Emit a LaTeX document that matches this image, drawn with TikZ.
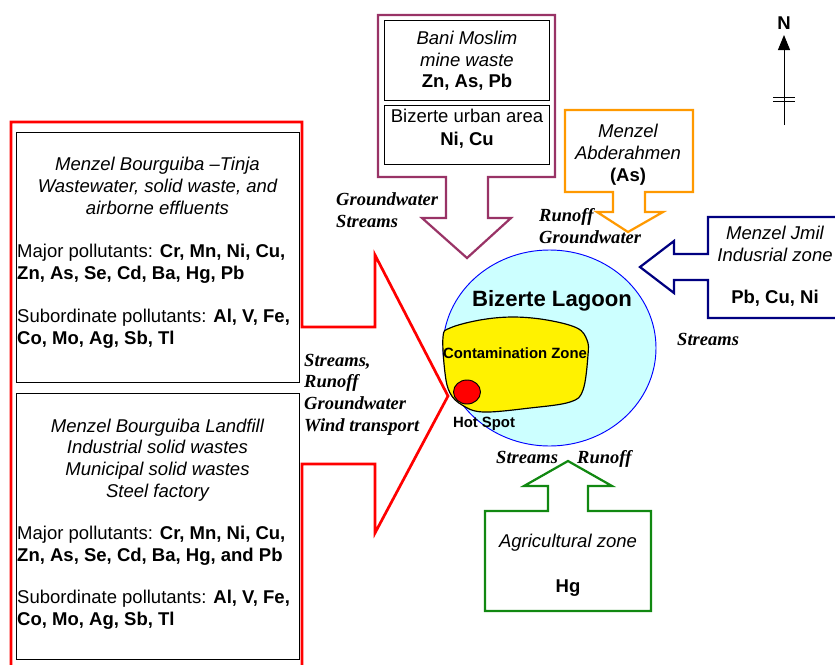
\documentclass[tikz,border=0pt]{standalone}
\usepackage{fontspec}
\setmainfont{Liberation Sans}
\newfontfamily\pathfont{Liberation Serif}
\usetikzlibrary{arrows.meta}
\definecolor{minecol}{HTML}{993366}
\definecolor{abdcol}{HTML}{FF9900}
\definecolor{jmilcol}{HTML}{000080}
\definecolor{agricol}{HTML}{118811}
\definecolor{lagooncol}{HTML}{CCFFFF}
\begin{document}
\begin{tikzpicture}[x=0.03cm,y=-0.03cm]
    \tikzstyle{every node}+=[inner sep=0pt, font=\fontsize{15.8}{18.4}\selectfont]
    \tikzstyle{srcarrow}=[line width=1.9pt, line join=miter]
    \tikzstyle{listbox}=[draw=black, line width=0.8pt]
    \tikzstyle{title}=[align=center, anchor=base, font=\fontsize{15.8}{18.4}\selectfont\itshape]
    \tikzstyle{plist}=[align=left, anchor=base west]
    \tikzstyle{metals}=[anchor=base, font=\fontsize{15.8}{18.4}\selectfont\bfseries]
    \tikzstyle{path}=[align=left, anchor=base west, font=\fontsize{15.8}{18.4}\selectfont\pathfont\bfseries\itshape]
    \useasboundingbox (0,0) rectangle (835,664);
    % Menzel Bourguiba sources
    \draw [red, srcarrow, line width=2.3pt] (11,670) -- (11,122) -- (302,122) -- (302,327) -- (375,327) -- (375,255) -- (448,396) -- (375,533) -- (375,464) -- (302,464) -- (302,670);
    \draw [listbox] (16,132) rectangle (299,382);
    \draw [listbox] (16,393) rectangle (299,659);
    \node [title] (tinja) at (157.5,214) {Menzel Bourguiba –Tinja\\Wastewater, solid waste, and\\airborne effluents};
    \node [plist] (tinjamaj) at (17,279) {Major pollutants: \textbf{Cr, Mn, Ni, Cu,}\\\textbf{Zn, As, Se, Cd, Ba, Hg, Pb}};
    \node [plist] (tinjasub) at (17,344) {Subordinate pollutants: \textbf{Al, V, Fe,}\\\textbf{Co, Mo, Ag, Sb, Tl}};
    \node [title] (landfill) at (157.5,497) {Menzel Bourguiba Landfill\\Industrial solid wastes\\Municipal solid wastes\\Steel factory};
    \node [plist] (landmaj) at (17,561) {Major pollutants: \textbf{Cr, Mn, Ni, Cu,}\\\textbf{Zn, As, Se, Cd, Ba, Hg, and Pb}};
    \node [plist] (landsub) at (17,625) {Subordinate pollutants: \textbf{Al, V, Fe,}\\\textbf{Co, Mo, Ag, Sb, Tl}};
    \node [path] (redpath) at (304,431) {Streams,\\Runoff\\Groundwater\\Wind transport};
    % Bani Moslim and Bizerte
    \draw [minecol, srcarrow] (378,15) -- (555,15) -- (555,177) -- (488,177) -- (488,218) -- (511,218) -- (467,258) -- (422,218) -- (446,218) -- (446,177) -- (378,177) -- cycle;
    \draw [listbox] (384,20) rectangle (549,100);
    \draw [listbox] (384,105) rectangle (549,164);
    \node [title] (mine) at (467,66) {Bani Moslim\\mine waste};
    \node [metals] (minemet) at (467,87) {Zn, As, Pb};
    \node [anchor=base] (urban) at (467,122) {Bizerte urban area};
    \node [metals] (urbanmet) at (467,145) {Ni, Cu};
    \node [path] (minepath) at (336,227) {Groundwater\\Streams};
    % Menzel Abderahmen
    \draw [abdcol, srcarrow] (565,110) -- (693,110) -- (693,192) -- (645,192) -- (645,212) -- (663,212) -- (628,232) -- (597,212) -- (613,212) -- (613,192) -- (565,192) -- cycle;
    \node [title] (abd) at (628,159) {Menzel\\Abderahmen};
    \node [metals] (abdmet) at (628,181) {(As)};
    \node [path] (abdpath) at (539,243) {Runoff\\Groundwater};
    % Menzel Jmil
    \draw [jmilcol, srcarrow] (845,217) -- (708,217) -- (708,254) -- (674,254) -- (674,241) -- (640,267) -- (674,293) -- (674,280) -- (708,280) -- (708,318) -- (845,318);
    \node [title] (jmil) at (775,261) {Menzel Jmil\\Indusrial zone};
    \node [metals] (jmilmet) at (775,303) {Pb, Cu, Ni};
    \node [path] (jmilpath) at (677,345) {Streams};
    % Agricultural zone
    \draw [agricol, srcarrow] (485,511) -- (548,511) -- (548,486) -- (524,486) -- (568,461) -- (612,486) -- (588,486) -- (588,511) -- (651,511) -- (651,611) -- (485,611) -- cycle;
    \node [title] (agri) at (568,547) {Agricultural zone};
    \node [metals] (agrimet) at (568,592) {Hg};
    \node [path] (agristr) at (496,463) {Streams};
    \node [path] (agrirun) at (577,463) {Runoff};
    % lagoon
    \draw [blue, fill=lagooncol, line width=0.8pt] (549.5,348) ellipse [x radius=3.195cm, y radius=2.94cm];
    \draw [black, fill=yellow, line width=1pt] plot [smooth cycle, tension=0.6] coordinates {(443,337) (450,328) (480,320) (513,317) (547,320) (577,328) (587,340) (588,355) (583,390) (570,402) (530,408) (483,412) (462,405) (450,393) (445,373)};
    \draw [black, fill=red, line width=0.8pt] (467,392) ellipse [x radius=0.405cm, y radius=0.36cm];
    \node [anchor=base, font=\fontsize{18.9}{22}\selectfont\bfseries] (lagoon) at (552,306) {Bizerte Lagoon};
    \node [anchor=base, font=\fontsize{12.7}{15}\selectfont\bfseries] (zone) at (515,358) {Contamination Zone};
    \node [anchor=base, font=\fontsize{12.7}{15}\selectfont\bfseries] (hotspot) at (484,427) {Hot Spot};
    % north arrow
    \node [metals] (north) at (784,29) {N};
    \coordinate (ntip) at (784,35);
    \coordinate (ntail) at (784,125);
    \draw [-{Triangle[length=0.45cm, width=0.36cm]}, line width=0.8pt] (ntail) -- (ntip);
    \draw [line width=0.8pt] (773,97) -- (795,97);
    \draw [line width=0.8pt] (773,101) -- (795,101);
\end{tikzpicture}
\end{document}
